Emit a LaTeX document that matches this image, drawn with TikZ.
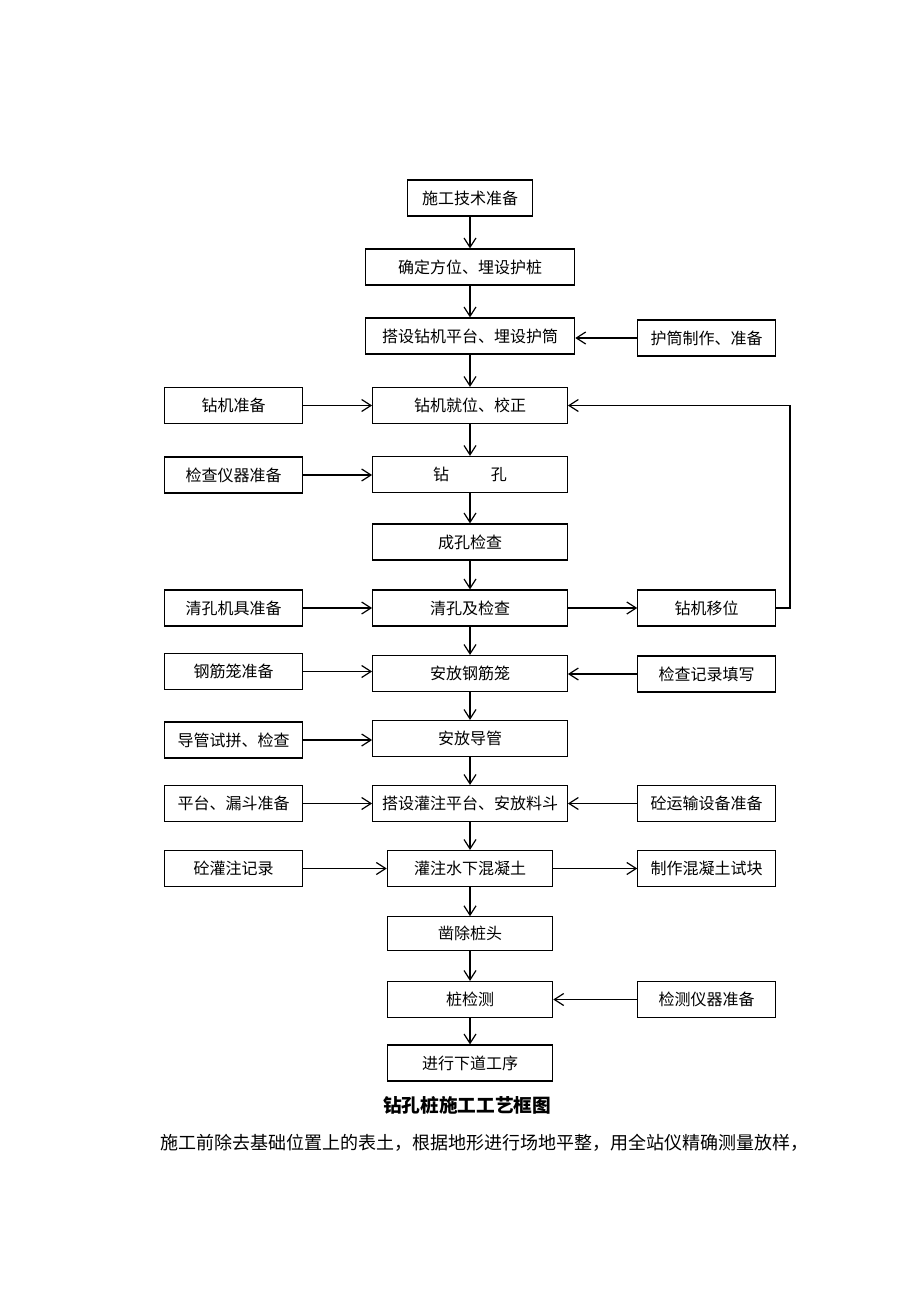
\documentclass[tikz,border=0pt]{standalone}
\usepackage{fontspec}
\newfontfamily\cjk{Noto Sans CJK SC}
\usetikzlibrary{arrows.meta}

\begin{document}
\begin{tikzpicture}[x=0.75pt,y=-0.75pt,
  >={Straight Barb[length=7pt,width=9pt]},
  every path/.style={line width=0.9pt},
  box/.style={rectangle,draw=black,line width=0.9pt,inner sep=0pt,minimum height=27pt,font=\cjk\fontsize{12}{14}\selectfont},
  main/.style={box,minimum width=146pt},
  wide/.style={box,minimum width=157pt},
  narrow/.style={box,minimum width=124pt},
  side/.style={box,minimum width=103pt}]

  \useasboundingbox (0,0) rectangle (920,1302) ;

  \pgfmathsetmacro{\xm}{470} ;
  \pgfmathsetmacro{\xl}{233.5} ;
  \pgfmathsetmacro{\xr}{706.5} ;

  % main column
  \node[box,minimum width=94pt] at (\xm, 198)  (tech)     {施工技术准备} ;
  \node[wide]   at (\xm, 267)    (locate)   {确定方位、埋设护桩} ;
  \node[wide]   at (\xm, 336)    (platform) {搭设钻机平台、埋设护筒} ;
  \node[main]   at (\xm, 405.5)  (rigpos)   {钻机就位、校正} ;
  \node[main]   at (\xm, 474.5)  (drill)    {钻\hspace{2.6em}孔} ;
  \node[main]   at (\xm, 542)    (holechk)  {成孔检查} ;
  \node[main]   at (\xm, 608)    (clean)    {清孔及检查} ;
  \node[main]   at (\xm, 673.5)  (cage)     {安放钢筋笼} ;
  \node[main]   at (\xm, 738.5)  (tube)     {安放导管} ;
  \node[main]   at (\xm, 803.5)  (hopper)   {搭设灌注平台、安放料斗} ;
  \node[narrow] at (\xm, 868.5)  (uwpour)   {灌注水下混凝土} ;
  \node[narrow,minimum height=25pt] at (\xm, 933.5) (cut) {凿除桩头} ;
  \node[narrow] at (\xm, 999.5)  (test)     {桩检测} ;
  \node[narrow] at (\xm, 1063)   (next)     {进行下道工序} ;

  % left column
  \node[side] at (\xl, 405.5) (rigprep)   {钻机准备} ;
  \node[side] at (\xl, 475)   (instprep)  {检查仪器准备} ;
  \node[side] at (\xl, 608)   (cleanprep) {清孔机具准备} ;
  \node[side] at (\xl, 671.5) (cageprep)  {钢筋笼准备} ;
  \node[side] at (\xl, 740)   (tubeprep)  {导管试拼、检查} ;
  \node[side] at (\xl, 803.5) (hopprep)   {平台、漏斗准备} ;
  \node[side] at (\xl, 868.5) (pourrec)   {砼灌注记录} ;

  % right column
  \node[side] at (\xr, 338)   (casing)    {护筒制作、准备} ;
  \node[side] at (\xr, 608)   (rigmove)   {钻机移位} ;
  \node[side] at (\xr, 674)   (record)    {检查记录填写} ;
  \node[side] at (\xr, 803.5) (transport) {砼运输设备准备} ;
  \node[side] at (\xr, 868.5) (sample)    {制作混凝土试块} ;
  \node[side] at (\xr, 999.5) (testprep)  {检测仪器准备} ;

  \coordinate (loopx) at (790, 0) ;

  % texts below
  \node[font=\cjk\bfseries\fontsize{14}{16}\selectfont] at (467, 1105) (title) {钻孔桩施工工艺框图} ;
  \node[anchor=west,inner sep=0pt,font=\cjk\fontsize{13.5}{16}\selectfont] at (160, 1143) (body)
    {施工前除去基础位置上的表土，根据地形进行场地平整，用全站仪精确测量放样，} ;

  \draw[->] (tech)      -- (locate) ;
  \draw[->] (locate)    -- (platform) ;
  \draw[->] (platform)  -- (rigpos) ;
  \draw[->] (rigpos)    -- (drill) ;
  \draw[->] (drill)     -- (holechk) ;
  \draw[->] (holechk)   -- (clean) ;
  \draw[->] (clean)     -- (cage) ;
  \draw[->] (cage)      -- (tube) ;
  \draw[->] (tube)      -- (hopper) ;
  \draw[->] (hopper)    -- (uwpour) ;
  \draw[->] (uwpour)    -- (cut) ;
  \draw[->] (cut)       -- (test) ;
  \draw[->] (test)      -- (next) ;

  \draw[->] (rigprep)   -- (rigpos) ;
  \draw[->] (instprep)  -- (instprep -| drill.west) ;
  \draw[->] (cleanprep) -- (clean) ;
  \draw[->] (cageprep)  -- (cageprep -| cage.west) ;
  \draw[->] (tubeprep)  -- (tubeprep -| tube.west) ;
  \draw[->] (hopprep)   -- (hopper) ;
  \draw[->] (pourrec)   -- (uwpour) ;

  \draw[->] (casing)    -- (casing -| platform.east) ;
  \draw[->] (record)    -- (record -| cage.east) ;
  \draw[->] (transport) -- (hopper) ;
  \draw[->] (testprep)  -- (test) ;
  \draw[->] (clean)     -- (rigmove) ;
  \draw[->] (uwpour)    -- (sample) ;
  \draw[->] (rigmove.east) -- (rigmove.east -| loopx) |- (rigpos.east) ;

\end{tikzpicture}
\end{document}
